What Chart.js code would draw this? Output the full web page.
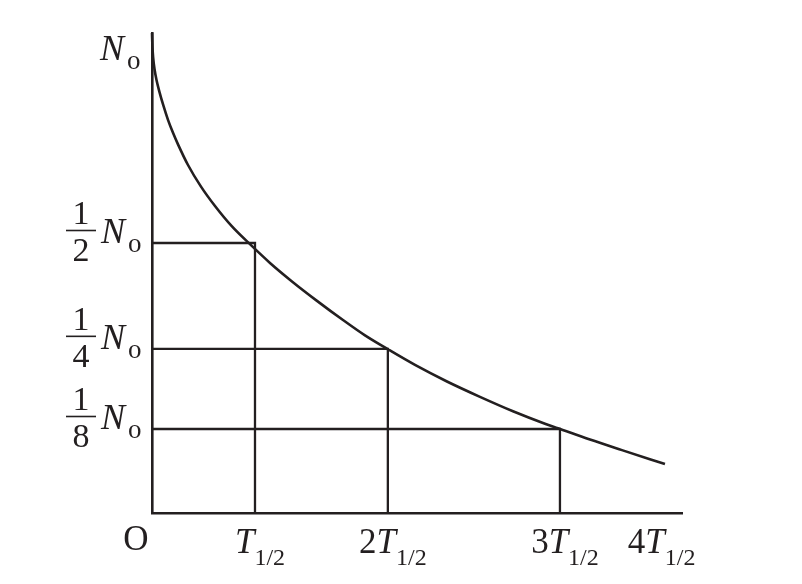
<!DOCTYPE html>
<html><head><meta charset="utf-8">
<script src="https://cdn.jsdelivr.net/npm/chart.js@4"></script>
<style>html,body{margin:0;padding:0;background:#fff}#wrap{width:802px;height:584px}</style>
</head><body><div id="wrap"><canvas id="c" width="802" height="584"></canvas></div>
<script>
// Decay curve N(t), t in units of T1/2 (schematic as drawn), N in units of N0
const curveT = [0, 0.0039, 0.0117, 0.0243, 0.0437, 0.0728, 0.1117, 0.1553, 0.2039, 0.2524, 0.3495, 0.4757, 0.6117, 0.7767, 0.9612, 1.1456, 1.3592, 1.6019, 1.8544, 2.068, 2.2913, 2.5534, 2.864, 3.1845, 3.5049, 3.8155, 3.9417, 4.2524, 4.5631, 4.9806];
const curveN = [1.0, 0.9729, 0.9479, 0.925, 0.902, 0.877, 0.848, 0.819, 0.792, 0.768, 0.725, 0.680, 0.6396, 0.597, 0.558, 0.521, 0.4825, 0.442, 0.402, 0.370, 0.341, 0.3085, 0.274, 0.242, 0.212, 0.186, 0.1765, 0.153, 0.131, 0.102];
// half-life marker points
const halfLifeT = [1, 2.29, 3.961];
const halfLifeN = [0.5625, 0.342, 0.175];
// tick labels
const xTickValues = [0, 1, 2.29, 3.961, 4.9];
const xTickPrefix = ['O', '', '2', '3', '4'];
const yTickValues = [1, 0.5625, 0.342, 0.175];
const yTickDenoms = ['', '2', '4', '8'];

const ink = '#231f20';
const serif = '"Liberation Serif", "Times New Roman", Tinos, serif';

const datasets = [{
  data: curveT.map((t, i) => ({x: t, y: curveN[i]})),
  borderColor: ink, borderWidth: 2.6, pointRadius: 0,
  cubicInterpolationMode: 'monotone', clip: false
}];
halfLifeT.forEach((t, i) => {
  datasets.push({
    data: [{x: 0, y: halfLifeN[i]}, {x: t, y: halfLifeN[i]}, {x: t, y: 0}],
    borderColor: ink, borderWidth: 2.3, pointRadius: 0, tension: 0, clip: false
  });
});

const labelPlugin = {
  id: 'mathLabels',
  afterDraw(chart) {
    const {ctx, scales: {x, y}} = chart;
    ctx.save();
    ctx.fillStyle = ink;
    ctx.strokeStyle = ink;
    ctx.textBaseline = 'alphabetic';
    const drawN = (lx, base) => {
      ctx.textAlign = 'left';
      ctx.font = 'italic 36px ' + serif;
      ctx.fillText('N', lx, base);
      ctx.font = '27px ' + serif;
      ctx.fillText('o', lx + 27, base + 9);
    };
    yTickValues.forEach((v, i) => {
      const py = y.getPixelForValue(v);
      if (!yTickDenoms[i]) { drawN(100, py + 27); return; }
      ctx.textAlign = 'center';
      ctx.font = '34px ' + serif;
      ctx.fillText('1', 81, py - 19);
      ctx.fillText(yTickDenoms[i], 81, py + 18);
      ctx.lineWidth = 1.6;
      ctx.beginPath(); ctx.moveTo(66, py - 12.5); ctx.lineTo(96, py - 12.5); ctx.stroke();
      drawN(101, py);
    });
    xTickValues.forEach((v, i) => {
      const px = x.getPixelForValue(v);
      const base = 553;
      if (xTickPrefix[i] === 'O') {
        ctx.textAlign = 'center';
        ctx.font = '35px ' + serif;
        ctx.fillText('O', px - 16, 550);
        return;
      }
      const pre = xTickPrefix[i];
      ctx.font = '35px ' + serif; const wPre = ctx.measureText(pre).width;
      ctx.font = 'italic 35px ' + serif; const wT = ctx.measureText('T').width;
      ctx.font = '24px ' + serif; const wSub = ctx.measureText('1/2').width;
      let lx = px + 5 - (wPre + wT + wSub) / 2;
      ctx.textAlign = 'left';
      ctx.font = '35px ' + serif; ctx.fillText(pre, lx, base); lx += wPre;
      ctx.font = 'italic 35px ' + serif; ctx.fillText('T', lx, base); lx += wT;
      ctx.font = '24px ' + serif; ctx.fillText('1/2', lx, base + 12);
    });
    ctx.restore();
  }
};

function build() {
  new Chart(document.getElementById('c'), {
    type: 'line',
    data: {datasets},
    options: {
      responsive: false, animation: false, devicePixelRatio: 1,
      layout: {padding: {left: 152, top: 33, right: 120, bottom: 71}},
      plugins: {legend: {display: false}, tooltip: {enabled: false}},
      scales: {
        x: {type: 'linear', min: 0, max: 5.146,
            grid: {display: false, drawTicks: false}, ticks: {display: false},
            border: {display: true, color: ink, width: 2.6}},
        y: {type: 'linear', min: 0, max: 1,
            grid: {display: false, drawTicks: false}, ticks: {display: false},
            border: {display: true, color: ink, width: 2.6}}
      }
    },
    plugins: [labelPlugin]
  });
}
if (document.fonts && document.fonts.load) {
  Promise.all([
    document.fonts.load('36px "Liberation Serif"'),
    document.fonts.load('italic 36px "Liberation Serif"')
  ]).then(build, build);
} else { build(); }
</script></body></html>
